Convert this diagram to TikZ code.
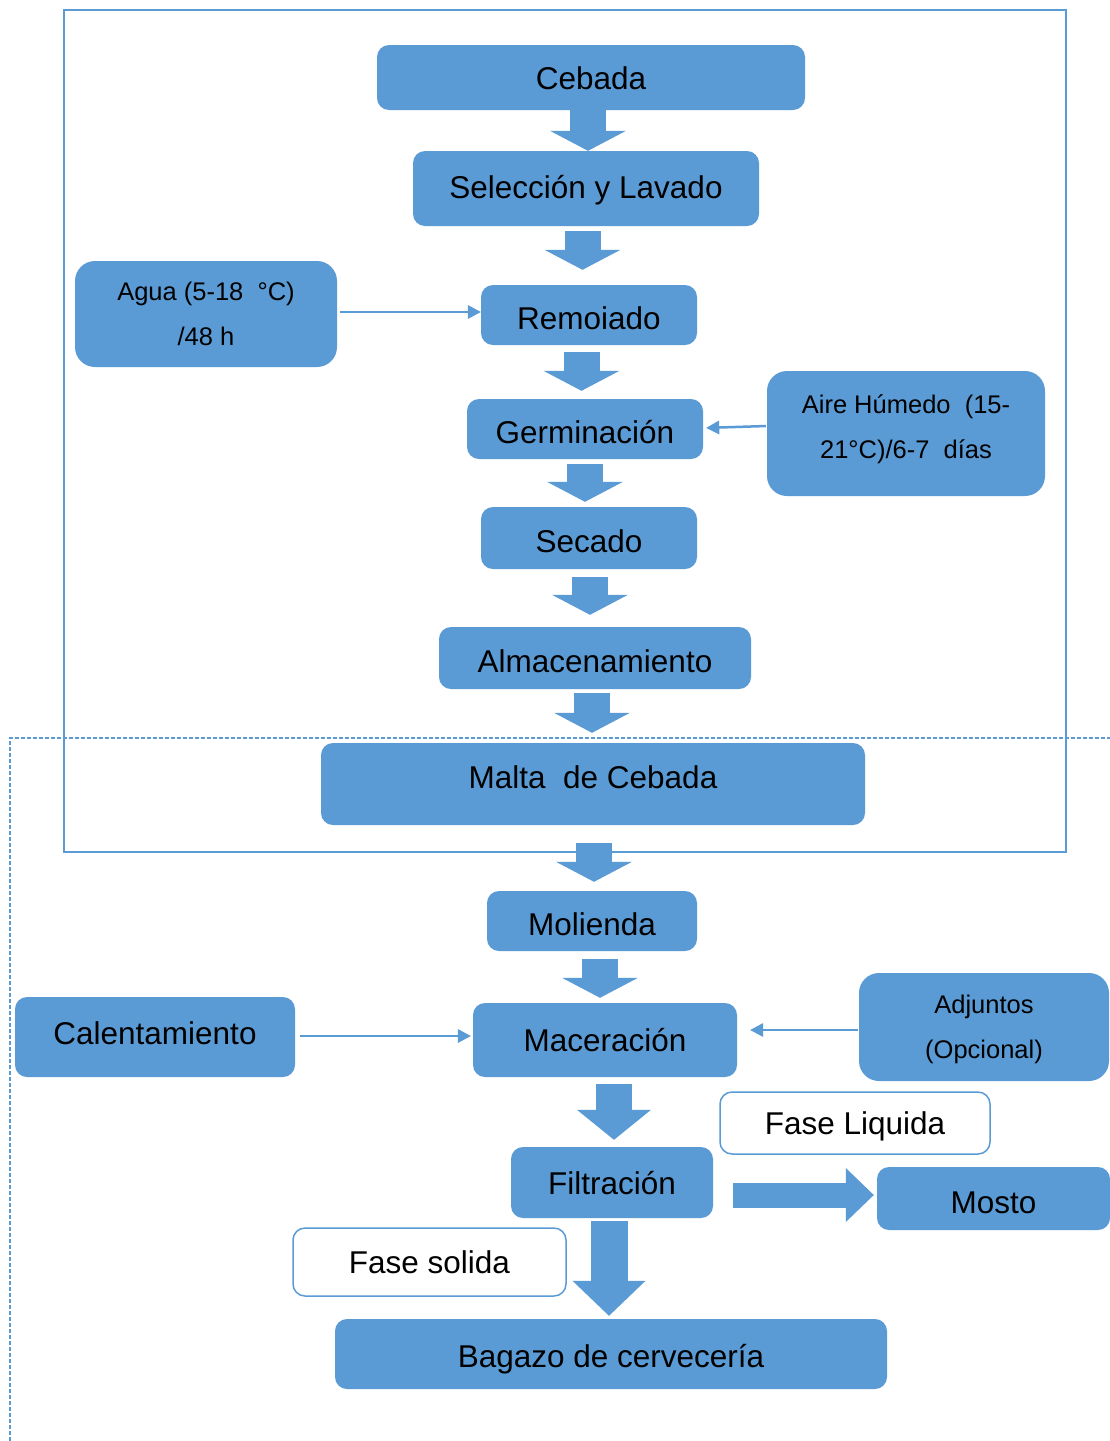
\documentclass[tikz,border=0pt]{standalone}
\usepackage{fontspec}
\setmainfont{Liberation Sans}
\usetikzlibrary{arrows.meta,calc}
\definecolor{mblue}{RGB}{91,155,213}
\begin{document}
\begin{tikzpicture}[x=1pt,y=-1pt,
  box/.style={fill=mblue, rounded corners=12pt, inner sep=0pt, font=\fontsize{31.5}{38}\selectfont, text height=23pt, text depth=0pt},
  wbox/.style={box, fill=white, draw=mblue, line width=1.5pt},
  sbox/.style={fill=mblue, rounded corners=20pt, inner sep=0pt, font=\fontsize{25.5}{45}\selectfont},
  blkarrow/.style n args={3}{draw=mblue, line width=#1, -{Triangle[length=#3 0 0, width=#2 0 0, line width=0pt 0 0]}},
  blk/.style={blkarrow={36pt}{76pt}{20pt}},
  thinarr/.style={draw=mblue, line width=2.5pt, -{Triangle[length=13pt 0 0, width=14pt 0 0, line width=0pt 0 0]}},
]
\useasboundingbox (0,0) rectangle (1110,1441);
\fill[white] (0,0) rectangle (1110,1441);
\draw[mblue, line width=2pt] (64,10) rectangle (1066,852);
\draw[mblue, line width=1.5pt, dash pattern=on 4pt off 2pt] (10,1441) -- (10,738) -- (1110,738);

\node[box, minimum width=428pt, minimum height=65pt] (ceb) at (591,77.5) {Cebada};
\node[box, minimum width=346pt, minimum height=75pt] (sel) at (586,188.5) {\raisebox{2pt}{Selección y Lavado}};
\node[sbox, minimum width=262pt, minimum height=106pt] (agua) at (206,314)
  {\begin{tabular}{@{}c@{}}Agua (5-18\ \ °C)\\/48 h\end{tabular}};
\node[box, minimum width=216pt, minimum height=60pt] (rem) at (589,315) {\raisebox{-3pt}{Remoiado}};
\node[box, minimum width=236pt, minimum height=60pt] (ger) at (585,429) {\raisebox{-3pt}{Germinación}};
\node[sbox, minimum width=278pt, minimum height=125pt] (aire) at (906,433.5)
  {\raisebox{7pt}[\height][\depth]{\begin{tabular}{@{}c@{}}Aire Húmedo\ \ (15-\\21°C)/6-7\ \ días\end{tabular}}};
\node[box, minimum width=216pt, minimum height=62pt] (sec) at (589,538) {\raisebox{-3pt}{Secado}};
\node[box, minimum width=312pt, minimum height=62pt] (alm) at (595,658) {\raisebox{-3pt}{Almacenamiento}};
\node[box, minimum width=544pt, minimum height=82pt] (malta) at (593,784) {\raisebox{7pt}{Malta\ \ de Cebada}};
\node[box, minimum width=210pt, minimum height=60pt] (mol) at (592,921) {\raisebox{-3pt}{Molienda}};
\node[box, minimum width=280pt, minimum height=80pt] (cal) at (155,1037) {\raisebox{4pt}{Calentamiento}};
\node[box, minimum width=264pt, minimum height=74pt] (mac) at (605,1040) {Maceración};
\node[sbox, minimum width=250pt, minimum height=108pt] (adj) at (984,1027)
  {\begin{tabular}{@{}c@{}}Adjuntos\\(Opcional)\end{tabular}};
\node[wbox, minimum width=270pt, minimum height=62pt] (liq) at (855,1123) {Fase Liquida};
\node[box, minimum width=202pt, minimum height=71pt] (fil) at (612,1182.5) {Filtración};
\node[box, minimum width=233pt, minimum height=63pt] (mosto) at (993.5,1198.5) {\raisebox{-3pt}{Mosto}};
\node[wbox, minimum width=273pt, minimum height=68pt] (sol) at (429.5,1262) {Fase solida};
\node[box, minimum width=552pt, minimum height=70pt] (bag) at (611,1354) {\raisebox{-2pt}{Bagazo de cervecería}};

% block arrows
\draw[blk] ([xshift=-3pt]ceb.south) -- ([xshift=-3pt]ceb.south |- sel.north);
\draw[blk, shorten <=5pt, shorten >=15pt] ([xshift=-3.5pt]sel.south) -- ([xshift=-3.5pt]sel.south |- rem.north);
\draw[blk, shorten <=7pt, shorten >=8pt] ([xshift=-7.5pt]rem.south) -- ([xshift=-7.5pt]rem.south |- ger.north);
\draw[blk, shorten <=5pt, shorten >=5pt] (ger.south) -- (ger.south |- sec.north);
\draw[blk, shorten <=8pt, shorten >=12pt] ([xshift=1pt]sec.south) -- ([xshift=1pt]sec.south |- alm.north);
\draw[blk, shorten <=4pt, shorten >=10pt] ([xshift=-3pt]alm.south) -- ([xshift=-3pt]alm.south |- malta.north);
\draw[blk, shorten <=18pt, shorten >=9pt] ([xshift=1pt]malta.south) -- ([xshift=1pt]malta.south |- mol.north);
\draw[blk, shorten <=8pt, shorten >=5pt] ([xshift=8pt]mol.south) -- ([xshift=8pt]mol.south |- mac.north);
\draw[blkarrow={36pt}{74pt}{30pt}, shorten <=7pt, shorten >=7pt] ([xshift=9pt]mac.south) -- ([xshift=9pt]mac.south |- fil.north);
\draw[blkarrow={25pt}{54pt}{28pt}, shorten <=20pt, shorten >=3pt] ([yshift=-12.5pt]fil.east) -- ([yshift=-12.5pt]fil.east -| mosto.west);
\draw[blkarrow={37pt}{73pt}{35pt}, shorten <=3pt, shorten >=3pt] ([xshift=-3pt]fil.south) -- ([xshift=-3pt]fil.south |- bag.north);

% thin arrows
\draw[thinarr, shorten <=3pt] ([yshift=2pt]agua.east) -- ([yshift=2pt]agua.east -| rem.west);
\draw[thinarr, shorten <=1pt, shorten >=3pt] ([yshift=7.5pt]aire.west) -- ([yshift=1pt]ger.east);
\draw[thinarr, shorten <=5pt, shorten >=2pt] ([yshift=1pt]cal.east) -- ([yshift=1pt]cal.east -| mac.west);
\draw[thinarr, shorten <=1pt, shorten >=13pt] ([yshift=-3pt]adj.west) -- ([yshift=-3pt]adj.west -| mac.east);
\end{tikzpicture}
\end{document}
